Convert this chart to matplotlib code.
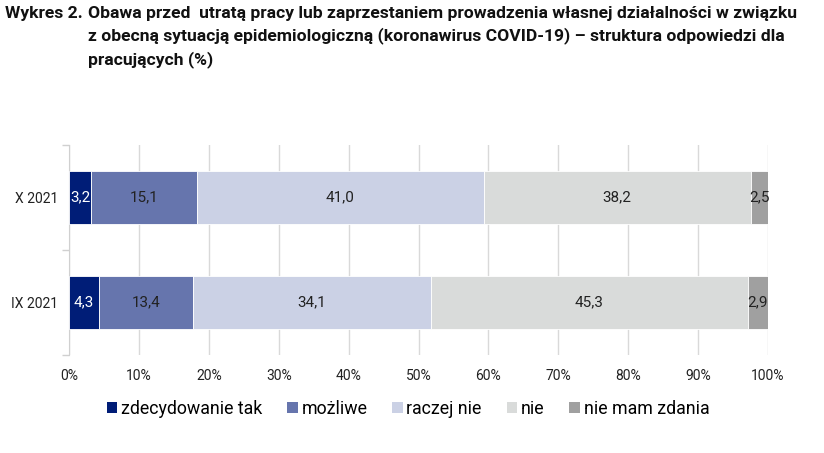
import numpy as np
import matplotlib
matplotlib.use("Agg")
import matplotlib.pyplot as plt
from matplotlib.patches import Patch

plt.rcParams["font.family"] = ["Liberation Sans Narrow", "Roboto", "DejaVu Sans"]

# dane (od dołu do góry)
periods = ["IX 2021", "X 2021"]
answers = ["zdecydowanie tak", "możliwe", "raczej nie", "nie", "nie mam zdania"]
values = {
    "zdecydowanie tak": [4.3, 3.2],
    "możliwe": [13.4, 15.1],
    "raczej nie": [34.1, 41.0],
    "nie": [45.3, 38.2],
    "nie mam zdania": [2.9, 2.5],
}
colors = ["#001d77", "#6675ad", "#cbd1e5", "#d9dbda", "#a0a0a0"]
label_colors = ["white", "#222222", "#222222", "#222222", "#222222"]

fig = plt.figure(figsize=(8.24, 4.53), dpi=100)
ax = fig.add_axes([69 / 824, 1 - 355 / 453, (768 - 69) / 824, 210 / 453])

y = np.arange(len(periods))
left = np.zeros(len(periods))
for ans, col, lcol in zip(answers, colors, label_colors):
    vals = np.array(values[ans])
    ax.barh(y, vals, left=left, height=0.5, color=col, edgecolor="white",
            linewidth=0.6, zorder=3)
    for yi, l, v in zip(y, left, vals):
        ax.text(l + v / 2, yi, f"{v:.1f}".replace(".", ","), ha="center",
                va="center", fontsize=11, color=lcol, zorder=4)
    left += vals

ax.set_xlim(0, 100)
ax.set_ylim(-0.5, len(periods) - 0.5)
ax.set_xticks(np.arange(0, 101, 10))
ax.set_xticklabels([f"{t}%" for t in range(0, 101, 10)], fontsize=10, color="#222222")
ax.set_yticks(y)
ax.set_yticklabels(periods, fontsize=10, color="#222222")
ax.set_yticks(np.arange(-0.5, len(periods), 1), minor=True)
ax.tick_params(axis="x", length=0, pad=10)
ax.tick_params(axis="y", which="major", length=0, pad=8)
ax.tick_params(axis="y", which="minor", length=5, color="#d0d0d0", width=1)
ax.grid(axis="x", color="#d9d9d9", linewidth=1, zorder=0)
for s in ["top", "right", "bottom"]:
    ax.spines[s].set_visible(False)
ax.spines["left"].set_color("#d0d0d0")

handles = [Patch(facecolor=c, edgecolor="none") for c in colors]
fig.legend(handles, answers, loc="center", bbox_to_anchor=(408 / 824, 1 - 409 / 453),
           ncol=5, frameon=False, fontsize=12.8, handlelength=0.6, handleheight=0.6,
           handletextpad=0.2, columnspacing=1.4, borderpad=0)

title_size = 12.6
fig.text(5 / 824, 1 - 6 / 453, "Wykres 2.", fontsize=title_size, fontweight="bold",
         va="top", ha="left", color="#111111")
fig.text(88 / 824, 1 - 6 / 453,
         "Obawa przed  utratą pracy lub zaprzestaniem prowadzenia własnej działalności w związku\n"
         "z obecną sytuacją epidemiologiczną (koronawirus COVID-19) – struktura odpowiedzi dla\n"
         "pracujących (%)",
         fontsize=title_size, fontweight="bold", va="top", ha="left", color="#111111",
         linespacing=1.48)

fig.savefig("out.png", dpi=100)
